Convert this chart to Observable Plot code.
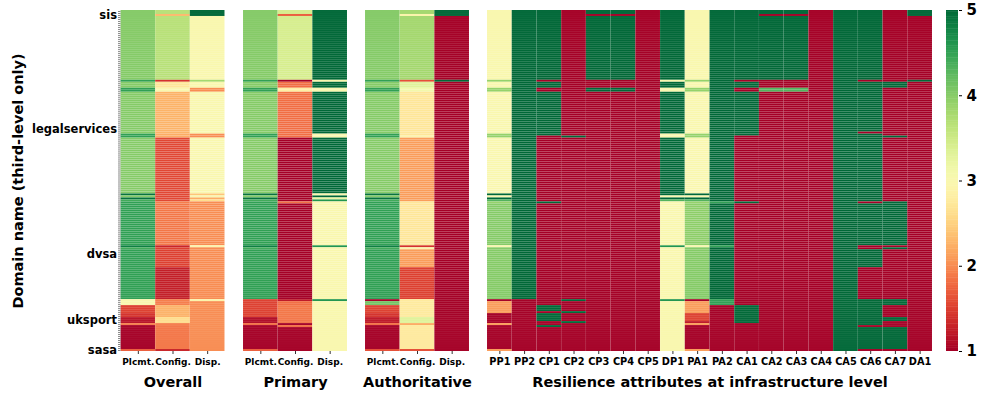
<!DOCTYPE html>
<html>
<head>
<meta charset="utf-8">
<script src="https://cdn.jsdelivr.net/npm/d3@7"></script>
<script src="https://cdn.jsdelivr.net/npm/@observablehq/plot@0.6"></script>
<style>
  body { margin: 0; background: white; overflow: hidden; }
  #chart { position: relative; width: 982px; height: 397px; font-family: "DejaVu Sans", sans-serif; }
  #chart svg { position: absolute; top: 0; max-width: none; }
</style>
</head>
<body>
<div id="chart"></div>
<script>
// ---- columns / labels ----
const subCols = ["Plcmt.", "Config.", "Disp."];
const infraCols = ["PP1","PP2","CP1","CP2","CP3","CP4","CP5","DP1","PA1","PA2","CA1","CA2","CA3","CA4","CA5","CA6","CA7","DA1"];
const panelTitles = ["Overall", "Primary", "Authoritative", "Resilience attributes at infrastructure level"];
const yTitle = "Domain name (third-level only)";
const labelRows = [2, 59, 122, 155, 170];
const labelNames = ["sis", "legalservices", "dvsa", "uksport", "sasa"];
const colorTicks = [1, 2, 3, 4, 5];

// ---- number of domain rows in each run of identical rows (top to bottom) ----
const blockRows = [2,1,32,1,3,2,20,1,1,1,28,1,1,1,1,1,21,1,1,9,16,1,2,3,1,2,2,1,1,1,11,1];

// ---- Overall: [Plcmt, Config, Disp] per run ----
const overallVals = [
  [4.0,3.65,5],[4.0,2.3,5],[4.0,3.65,3.0],[4.5,1.4,3.8],[4.0,2.7,3.0],[4.5,3.0,2.0],
  [4.0,2.25,3.0],[4.0,2.25,3.0],[4.5,2.2,2.0],[4.5,2.2,2.0],[4.0,1.55,3.0],
  [4.9,1.55,2.4],[4.0,1.55,3.0],[4.9,1.55,2.2],[4.4,1.55,2.6],[4.5,1.9,2.0],
  [4.5,1.85,2.0],[4.8,1.3,2.9],[4.4,1.5,2.0],[4.5,1.5,2.0],[4.5,1.25,2.0],
  [3.0,1.9,2.9],[3.0,1.9,2.0],[1.5,2.25,2.0],[1.5,2.25,2.0],[1.4,2.25,2.0],
  [1.15,2.6,2.0],[1.15,2.6,2.0],[1.9,1.9,2.0],[1.0,1.85,2.0],[1.0,1.85,2.0],[1.7,1.3,2.0]
];
// ---- Primary: [Plcmt, Config, Disp] per run ----
const primaryVals = [
  [4.0,3.4,5],[4.0,1.7,5],[4.0,3.4,5],[4.5,1.0,3.0],[4.0,1.8,5],[4.5,2.8,3.0],
  [4.0,1.8,5],[4.0,1.8,5],[4.5,1.8,3.0],[4.5,1.8,3.0],[4.0,1.0,5],
  [4.9,1.0,3.0],[4.0,1.0,5],[4.9,1.0,3.2],[4.4,1.0,4.6],[4.5,1.8,3.0],
  [4.5,1.0,3.0],[4.8,1.0,4.6],[4.4,1.0,3.0],[4.5,1.0,3.0],[4.5,1.0,3.0],
  [1.5,1.2,4.6],[1.5,1.8,3.0],[1.5,1.85,3.0],[1.5,1.85,3.0],[1.5,1.85,3.0],
  [1.1,1.85,3.0],[1.1,1.85,3.0],[1.8,1.0,3.0],[1.0,1.8,3.0],[1.0,1.0,3.0],[1.7,1.0,3.0]
];
// ---- Authoritative: [Plcmt, Config, Disp] per run ----
const authVals = [
  [4.0,3.8,5],[4.0,2.9,5],[4.0,3.8,1],[4.5,1.6,5],[4.0,3.3,1],[4.5,3.1,1],
  [4.0,2.7,1],[4.0,2.7,1],[4.5,2.7,1],[4.5,2.9,1],[4.0,2.1,1],
  [4.9,2.1,1],[4.0,2.1,1],[4.9,2.1,1],[4.4,2.1,1],[4.5,2.7,1],
  [4.5,2.7,1],[4.8,1.4,1],[4.4,2.9,1],[4.5,2.1,1],[4.5,1.5,1],
  [1.0,2.75,1],[4.1,2.75,1],[1.5,2.75,1],[1.5,2.75,1],[1.4,2.75,1],
  [1.2,3.3,1],[1.2,3.3,1],[1.8,2.2,1],[1.0,2.75,1],[1.0,2.75,1],[1.6,1.6,1]
];
// ---- Infrastructure attributes (PP1 ... DA1) per run ----
const infraVals = [
  [3,5,5,1,5,5,1,5,3,5,5,5,5,1,5,5,1,5],
  [3,5,5,1,1,1,1,5,3,5,5,1,1,1,5,5,1,5],
  [3,5,5,1,5,5,1,5,3,5,5,5,5,1,5,5,1,1],
  [3.9,5,1,1,1,1,1,3,3.9,5,1,1,1,1,5,1,1,5],
  [3,5,5,1,1,1,1,5,3,5,5,1,1,1,5,5,5,1],
  [3.9,5,1,1,5,5,1,3,3.9,5,1,4.3,4.3,1,5,5,1,1],
  [3,5,5,1,1,1,1,5,3,5,5,1,1,1,5,5,1,1],
  [3,5,5,1,1,1,1,5,3,5,5,1,1,1,5,1,1,1],
  [3.9,5,5,1,1,1,1,3,3.9,5,5,1,1,1,5,5,1,1],
  [3.9,5,1,5,1,1,1,3,3.9,5,1,1,1,1,5,5,5,1],
  [3,5,1,1,1,1,1,5,3,5,1,1,1,1,5,5,1,1],
  [5,5,1,1,1,1,1,5,5,5,1,1,1,1,5,5,1,1],
  [3,5,1,1,1,1,1,3,3,5,1,1,1,1,5,5,1,1],
  [5,5,1,1,1,1,1,5,5,5,1,1,1,1,5,5,1,1],
  [4.3,5,1,1,1,1,1,4.3,4.3,5,1,1,1,1,5,5,1,1],
  [3.9,5,5,1,1,1,1,3,3.9,4.5,5,1,1,1,5,1,5,1],
  [4.0,5,1,1,1,1,1,3,3.95,5,1,1,1,1,5,5,5,1],
  [3,5,1,1,1,1,1,4.6,3,4.5,1,1,1,1,5,1,1,1],
  [4.0,5,1,1,1,1,1,3,4.0,5,1,1,1,1,5,1,5,1],
  [4.0,5,1,1,1,1,1,3,4.0,5,1,1,1,1,5,5,1,1],
  [4.0,5,1,1,1,1,1,3,4.0,5,1,1,1,1,5,1,1,1],
  [1,1,1,5,1,1,1,4.6,1,4.5,1,1,1,1,5,5,5,1],
  [2.1,1,1,1,1,1,1,3,2.1,4.5,1,1,1,1,5,5,5,1],
  [2.1,1,5,1,1,1,1,3,2.1,1,5,1,1,1,5,5,1,1],
  [2.1,1,1,5,1,1,1,3,2.1,1,5,1,1,1,5,5,1,1],
  [1,1,5,1,1,1,1,3,1.5,1,5,1,1,1,5,5,1,1],
  [1,1,5,1,1,1,1,3,1.5,1,5,1,1,1,5,5,5,1],
  [1,1,1,5,1,1,1,3,1.2,1,5,1,1,1,5,5,1,1],
  [2.1,1,1,1,1,1,1,3,2.1,1,1,1,1,1,5,5,1,1],
  [1,1,5,1,1,1,1,3,1,1,1,1,1,1,5,1,1,1],
  [1,1,1,1,1,1,1,3,1,1,1,1,1,1,5,5,5,1],
  [2.1,1,1,1,1,1,1,3,2.1,1,1,1,1,1,5,1,1,1]
];

// ---- build tidy cells from the runs ----
const nRows = d3.sum(blockRows);
const rowIndex = d3.range(nRows);
function expand(vals, cols) {
  const out = [];
  let r = 0;
  blockRows.forEach((n, b) => {
    for (let k = 0; k < n; k++, r++) {
      cols.forEach((c, j) => out.push({row: r, col: c, v: vals[b][j]}));
    }
  });
  return out;
}

const FONT = "DejaVu Sans";
const colorOpts = {type: "linear", scheme: "RdYlGn", domain: [1, 5]};

function panel({cols, vals, title, left, width, marginLeft, marginRight, tickFont, withY}) {
  const marks = [
    Plot.cell(expand(vals, cols), {x: "col", y: "row", fill: "v", inset: 0,
      stroke: "white", strokeOpacity: 0.06, strokeWidth: 0.6}),
    Plot.axisX({tickSize: 3, tickPadding: 4, fontSize: tickFont, fontWeight: "bold", label: null, stroke: "#333"}),
    Plot.text([title], {text: d => d, frameAnchor: "bottom", dy: 35, fontSize: 14.5, fontWeight: "bold", fill: "black"})
  ];
  if (withY) {
    marks.push(
      Plot.axisY(rowIndex, {tickSize: 2.5, tickFormat: () => "", stroke: "#888", label: null}),
      Plot.axisY(labelRows, {tickSize: 0, tickPadding: 4, tickFormat: d => labelNames[labelRows.indexOf(d)],
        fontSize: 11.5, fontWeight: "bold", label: null}),
      Plot.text([yTitle], {text: d => d, frameAnchor: "left", textAnchor: "middle", dx: -103, dy: 0, rotate: -90,
        fontSize: 14.5, fontWeight: "bold", fill: "black"})
    );
  }
  const svg = Plot.plot({
    width, height: 397, marginTop: 10, marginBottom: 46, marginLeft, marginRight,
    style: {background: "transparent", overflow: "visible", fontFamily: FONT, color: "black"},
    x: {type: "band", domain: cols, padding: 0, round: false},
    y: {type: "band", domain: rowIndex, padding: 0, round: false, axis: withY ? undefined : null},
    color: colorOpts,
    marks
  });
  svg.style.left = left + "px";
  return svg;
}

const chart = document.getElementById("chart");
chart.append(panel({cols: subCols, vals: overallVals, title: panelTitles[0], left: 0, width: 234, marginLeft: 120.5, marginRight: 9.5, tickFont: 9, withY: true}));
chart.append(panel({cols: subCols, vals: primaryVals, title: panelTitles[1], left: 223, width: 144, marginLeft: 20, marginRight: 20, tickFont: 9}));
chart.append(panel({cols: subCols, vals: authVals, title: panelTitles[2], left: 345, width: 144, marginLeft: 20, marginRight: 20, tickFont: 9}));
chart.append(panel({cols: infraCols, vals: infraVals, title: panelTitles[3], left: 467, width: 475, marginLeft: 20, marginRight: 10, tickFont: 9.8}));

// ---- colour bar ----
const ramp = d3.range(1, 5, 0.02);
const cbar = Plot.plot({
  width: 52, height: 397, marginTop: 10, marginBottom: 46, marginLeft: 16, marginRight: 24,
  style: {background: "transparent", overflow: "visible", fontFamily: FONT, color: "black"},
  y: {domain: [1, 5]},
  color: colorOpts,
  marks: [
    Plot.rect(ramp, {y1: d => d, y2: d => Math.min(5, d + 0.025), fill: d => d}),
    Plot.axisY({anchor: "right", ticks: colorTicks, tickSize: 3, tickPadding: 5, fontSize: 15,
      fontWeight: "bold", label: null, tickFormat: d3.format("d")})
  ]
});
cbar.style.left = "930px";
chart.append(cbar);
</script>
</body>
</html>
